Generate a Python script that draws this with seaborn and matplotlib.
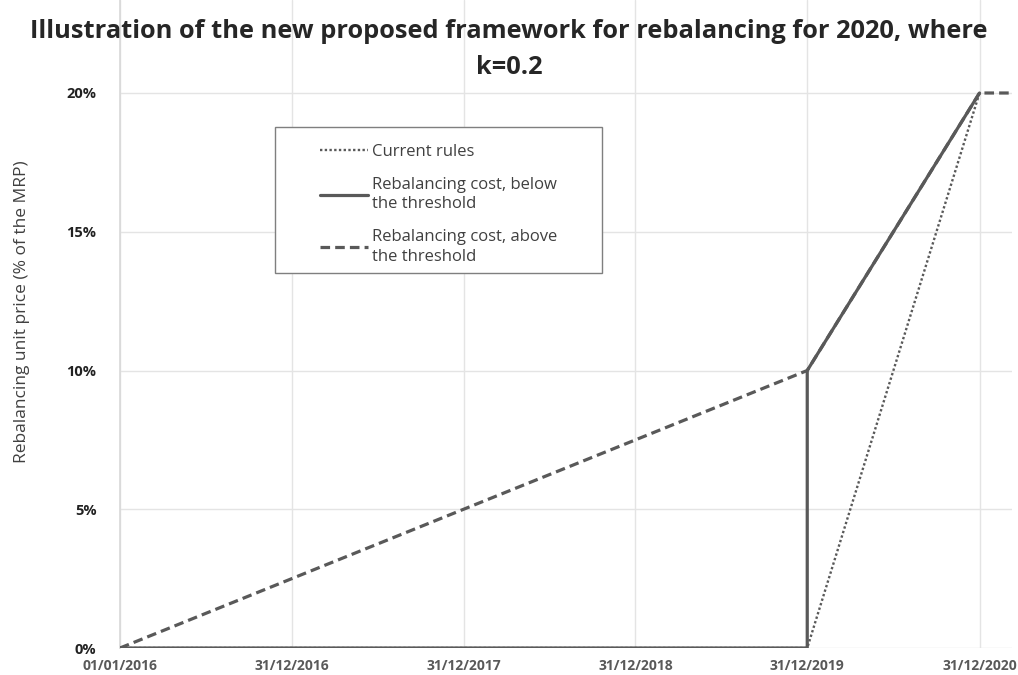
import matplotlib
matplotlib.use("Agg")
import matplotlib.pyplot as plt
from matplotlib.patches import Rectangle
from matplotlib.ticker import PercentFormatter
import seaborn as sns
import pandas as pd

# ---- data ----
current_dates = ["2016-01-01", "2019-12-31", "2020-12-31"]
current_vals = [0.0, 0.0, 0.20]

below_dates = ["2016-01-01", "2019-12-31", "2019-12-31", "2020-12-31"]
below_vals = [0.0, 0.0, 0.10, 0.20]

above_dates = ["2016-01-01", "2019-12-31", "2020-12-31", "2021-03-10"]
above_vals = [0.0, 0.10, 0.20, 0.20]

tick_dates = ["2016-01-01", "2016-12-31", "2017-12-31", "2018-12-31", "2019-12-31", "2020-12-31"]
tick_labels = ["01/01/2016", "31/12/2016", "31/12/2017", "31/12/2018", "31/12/2019", "31/12/2020"]
y_ticks = [0.0, 0.05, 0.10, 0.15, 0.20]

labels = ["Current rules", "Rebalancing cost, below\nthe threshold", "Rebalancing cost, above\nthe threshold"]

sns.set_theme(style="white")
plt.rcParams["font.family"] = ["Open Sans", "DejaVu Sans"]

W, H = 1018, 675
fig = plt.figure(figsize=(W / 100, H / 100), dpi=100)
ax_l, ax_r, ax_b = 120, 1012, 648
ax = fig.add_axes([ax_l / W, 1 - ax_b / H, (ax_r - ax_l) / W, ax_b / H])


def px(x, y):
    """pixel (from top-left) -> axes fraction"""
    return ((x - ax_l) / (ax_r - ax_l), 1 - y / ax_b)


col = "#595959"
df_c = pd.DataFrame({"x": pd.to_datetime(current_dates), "y": current_vals})
df_b = pd.DataFrame({"x": pd.to_datetime(below_dates), "y": below_vals})
df_a = pd.DataFrame({"x": pd.to_datetime(above_dates), "y": above_vals})

sns.lineplot(data=df_a, x="x", y="y", estimator=None, ax=ax, color=col, lw=2.3,
             linestyle=(0, (3, 1.6)), label=labels[2], zorder=3)
sns.lineplot(data=df_c, x="x", y="y", estimator=None, ax=ax, color=col, lw=1.7,
             linestyle=(0, (1, 1.0)), label=labels[0], zorder=4)
sns.lineplot(data=df_b, x="x", y="y", estimator=None, ax=ax, color=col, lw=2.3,
             linestyle="-", label=labels[1], zorder=5)

ax.set_xlim(pd.Timestamp("2016-01-01"), pd.Timestamp("2021-03-10"))
ax.set_ylim(0, 0.20 * 648 / 555)
ax.set_yticks(y_ticks)
ax.yaxis.set_major_formatter(PercentFormatter(1.0, decimals=0))
ax.set_xticks(pd.to_datetime(tick_dates))
ax.set_xticklabels(tick_labels)

ax.grid(True, color="#e4e4e4", lw=1)
for s in ["top", "right", "bottom"]:
    ax.spines[s].set_visible(False)
ax.spines["left"].set_color("#d9d9d9")
ax.tick_params(axis="y", length=0, pad=17, labelsize=10.5, labelcolor="#222222")
ax.tick_params(axis="x", length=0, pad=8, labelsize=10, labelcolor=col)
for t in ax.get_xticklabels() + ax.get_yticklabels():
    t.set_fontweight("bold")

ax.set_xlabel("")
ax.set_ylabel("Rebalancing unit price (% of the MRP)", fontsize=12.5, color="#404040")
ax.yaxis.set_label_coords(*px(30, 312))

handles, labs = ax.get_legend_handles_labels()
order = [labs.index(l) for l in labels]
leg = ax.legend([handles[i] for i in order], [labs[i] for i in order],
                loc="upper left", bbox_to_anchor=px(320, 144),
                frameon=False, fontsize=12, handlelength=2.9,
                borderpad=0, labelspacing=1.0, handletextpad=0.25, borderaxespad=0)
for t in leg.get_texts():
    t.set_color("#404040")
    t.set_linespacing(1.3)
x0, y0 = px(275, 273)
x1, y1 = px(602, 127)
ax.add_patch(Rectangle((x0, y0), x1 - x0, y1 - y0, transform=ax.transAxes,
                       facecolor="white", edgecolor="#7f7f7f", lw=1.0, zorder=6))
leg.set_zorder(7)

fig.text(0.5, 0.972, "Illustration of the new proposed framework for rebalancing for 2020, where\nk=0.2",
         ha="center", va="top", fontsize=18.3, fontweight="bold", linespacing=1.6)

fig.savefig("out.png", dpi=100)
